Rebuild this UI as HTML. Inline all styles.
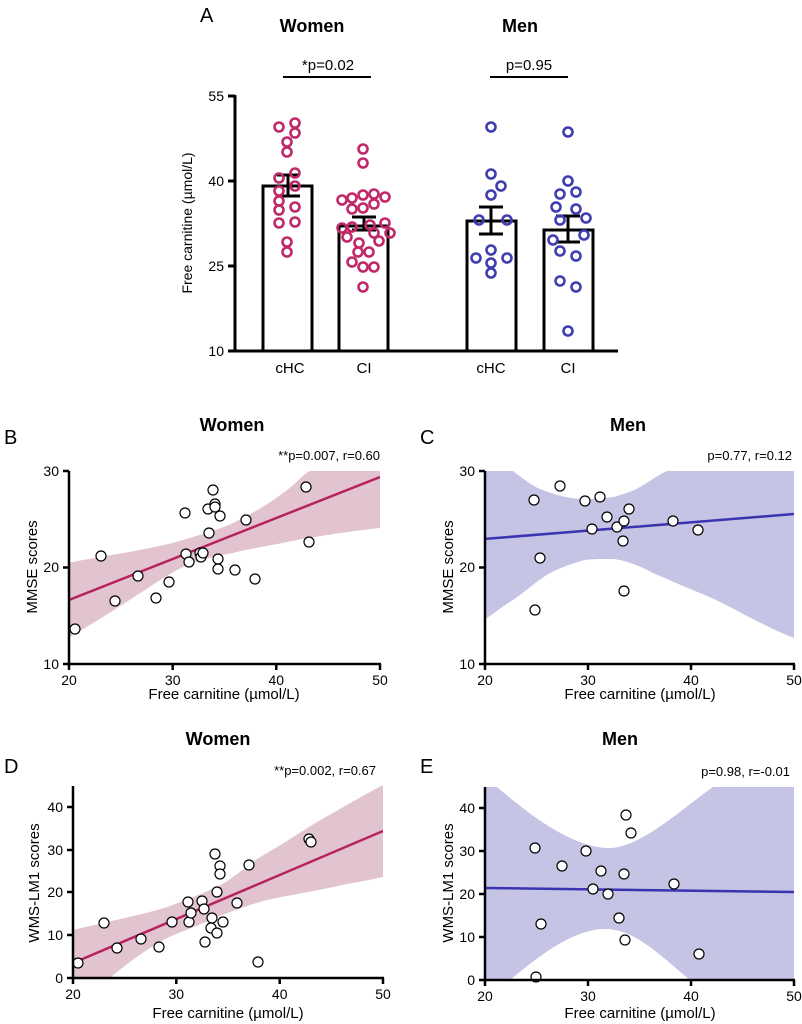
<!DOCTYPE html>
<html><head><meta charset="utf-8"><style>
html,body{margin:0;padding:0;background:#fff;}
svg{display:block;font-family:"Liberation Sans",Arial,sans-serif;}
</style></head><body>
<svg width="802" height="1024" viewBox="0 0 802 1024" xmlns="http://www.w3.org/2000/svg">
<defs>
<clipPath id="cB"><rect x="69" y="471" width="311" height="193"/></clipPath>
<clipPath id="cC"><rect x="485" y="471" width="309" height="193"/></clipPath>
<clipPath id="cD"><rect x="72" y="786" width="311" height="192"/></clipPath>
<clipPath id="cE"><rect x="485" y="787" width="309" height="193"/></clipPath>
</defs>
<!-- PANEL A -->
<text x="200" y="22" font-size="20">A</text>
<text x="312" y="32" font-size="18" font-weight="bold" text-anchor="middle">Women</text>
<text x="520" y="32" font-size="18" font-weight="bold" text-anchor="middle">Men</text>
<text x="328" y="70" font-size="15" text-anchor="middle">*p=0.02</text>
<line x1="283" y1="77" x2="371" y2="77" stroke="#000" stroke-width="2"/>
<text x="529" y="70" font-size="15" text-anchor="middle">p=0.95</text>
<line x1="490" y1="77" x2="568" y2="77" stroke="#000" stroke-width="2"/>
<text transform="translate(192,223) rotate(-90)" font-size="14" text-anchor="middle">Free carnitine (µmol/L)</text>
<g font-size="14" text-anchor="end">
<text x="224" y="101">55</text><text x="224" y="186">40</text><text x="224" y="271">25</text><text x="224" y="356">10</text>
</g>
<g stroke="#000" stroke-width="3" fill="#fff">
<rect x="263" y="186" width="49" height="165"/>
<rect x="339" y="226" width="49" height="125"/>
<rect x="467" y="221" width="49" height="130"/>
<rect x="544" y="230" width="49" height="121"/>
</g>
<g stroke="#000" stroke-width="3" fill="none">
<line x1="235" y1="95" x2="235" y2="352"/>
<line x1="234" y1="351" x2="618" y2="351"/>
<line x1="228" y1="96" x2="235" y2="96"/><line x1="228" y1="181" x2="235" y2="181"/><line x1="228" y1="266" x2="235" y2="266"/><line x1="228" y1="351" x2="235" y2="351"/>
<path d="M277 175H300M288 175V196M277 196H300"/>
<path d="M352 217H376M364 217V230M352 230H376"/>
<path d="M479 207H503M491 207V234M479 234H503"/>
<path d="M556 216H580M568 216V242M556 242H580"/>
</g>
<g font-size="15" text-anchor="middle">
<text x="290" y="373">cHC</text><text x="364" y="373">CI</text><text x="491" y="373">cHC</text><text x="568" y="373">CI</text>
</g>
<g fill="none" stroke="#c0286a" stroke-width="2.6">
<circle cx="279" cy="127" r="4.5"/><circle cx="295" cy="123" r="4.5"/><circle cx="295" cy="133" r="4.5"/><circle cx="287" cy="142" r="4.5"/><circle cx="287" cy="152" r="4.5"/><circle cx="295" cy="173" r="4.5"/><circle cx="279" cy="178" r="4.5"/><circle cx="295" cy="186" r="4.5"/><circle cx="279" cy="191" r="4.5"/><circle cx="279" cy="201" r="4.5"/><circle cx="295" cy="207" r="4.5"/><circle cx="279" cy="210" r="4.5"/><circle cx="279" cy="223" r="4.5"/><circle cx="295" cy="222" r="4.5"/><circle cx="287" cy="242" r="4.5"/><circle cx="287" cy="252" r="4.5"/>
<circle cx="363" cy="149" r="4.5"/><circle cx="363" cy="163" r="4.5"/><circle cx="342" cy="200" r="4.5"/><circle cx="352" cy="198" r="4.5"/><circle cx="363" cy="195" r="4.5"/><circle cx="374" cy="194" r="4.5"/><circle cx="385" cy="197" r="4.5"/><circle cx="352" cy="209" r="4.5"/><circle cx="363" cy="208" r="4.5"/><circle cx="374" cy="204" r="4.5"/><circle cx="342" cy="228" r="4.5"/><circle cx="352" cy="227" r="4.5"/><circle cx="370" cy="225" r="4.5"/><circle cx="385" cy="223" r="4.5"/><circle cx="347" cy="237" r="4.5"/><circle cx="374" cy="233" r="4.5"/><circle cx="390" cy="233" r="4.5"/><circle cx="359" cy="243" r="4.5"/><circle cx="379" cy="241" r="4.5"/><circle cx="358" cy="252" r="4.5"/><circle cx="369" cy="252" r="4.5"/><circle cx="352" cy="262" r="4.5"/><circle cx="363" cy="267" r="4.5"/><circle cx="374" cy="267" r="4.5"/><circle cx="363" cy="287" r="4.5"/>
</g>
<g fill="none" stroke="#3f3db0" stroke-width="2.6">
<circle cx="491" cy="127" r="4.5"/><circle cx="491" cy="174" r="4.5"/><circle cx="501" cy="186" r="4.5"/><circle cx="491" cy="195" r="4.5"/><circle cx="479" cy="220" r="4.5"/><circle cx="507" cy="220" r="4.5"/><circle cx="491" cy="250" r="4.5"/><circle cx="476" cy="258" r="4.5"/><circle cx="507" cy="258" r="4.5"/><circle cx="491" cy="263" r="4.5"/><circle cx="491" cy="273" r="4.5"/>
<circle cx="568" cy="132" r="4.5"/><circle cx="568" cy="181" r="4.5"/><circle cx="560" cy="194" r="4.5"/><circle cx="576" cy="192" r="4.5"/><circle cx="556" cy="207" r="4.5"/><circle cx="576" cy="209" r="4.5"/><circle cx="560" cy="220" r="4.5"/><circle cx="586" cy="218" r="4.5"/><circle cx="584" cy="235" r="4.5"/><circle cx="553" cy="240" r="4.5"/><circle cx="560" cy="251" r="4.5"/><circle cx="576" cy="256" r="4.5"/><circle cx="560" cy="281" r="4.5"/><circle cx="576" cy="287" r="4.5"/><circle cx="568" cy="331" r="4.5"/>
</g>

<!-- PANEL B -->
<text x="4" y="444" font-size="20">B</text>
<text x="232" y="431" font-size="18" font-weight="bold" text-anchor="middle">Women</text>
<text x="380" y="460" font-size="13" text-anchor="end">**p=0.007, r=0.60</text>
<g clip-path="url(#cB)">
<path d="M68 563 C100 556 150 550 183 540 C210 532 225 527 233 523 C255 512 270 503 283 493 C295 485 303 474 310 471 L380 471 L380 528 C350 531 300 539 283 543 C260 547 240 551 233 553 C210 557 195 562 183 567 C160 578 133 600 68 638 Z" fill="#e2c4d0"/>
<line x1="69" y1="600" x2="380" y2="477" stroke="#b8215f" stroke-width="2.5"/>
</g>
<g fill="#fff" stroke="#000" stroke-width="1.2">
<circle cx="75" cy="629" r="5"/><circle cx="101" cy="556" r="5"/><circle cx="115" cy="601" r="5"/><circle cx="138" cy="576" r="5"/><circle cx="156" cy="598" r="5"/><circle cx="169" cy="582" r="5"/><circle cx="185" cy="513" r="5"/><circle cx="186" cy="554" r="5"/><circle cx="189" cy="562" r="5"/><circle cx="200" cy="553" r="5"/><circle cx="201" cy="557" r="5"/><circle cx="203" cy="553" r="5"/><circle cx="208" cy="509" r="5"/><circle cx="209" cy="533" r="5"/><circle cx="213" cy="490" r="5"/><circle cx="215" cy="504" r="5"/><circle cx="215" cy="507" r="5"/><circle cx="218" cy="559" r="5"/><circle cx="218" cy="569" r="5"/><circle cx="220" cy="516" r="5"/><circle cx="235" cy="570" r="5"/><circle cx="246" cy="520" r="5"/><circle cx="255" cy="579" r="5"/><circle cx="306" cy="487" r="5"/><circle cx="309" cy="542" r="5"/>
</g>

<!-- PANEL C -->
<text x="420" y="444" font-size="20">C</text>
<text x="628" y="431" font-size="18" font-weight="bold" text-anchor="middle">Men</text>
<text x="792" y="460" font-size="13" text-anchor="end">p=0.77, r=0.12</text>
<g clip-path="url(#cC)">
<path d="M484 471 L513 471 C525 480 535 488 543 490 C560 497 575 499 585 499 C598 499 605 498 613 497 C625 494 633 491 640 487 C650 481 660 474 667 471 L794 471 L794 638 C760 625 730 605 700 593 C680 585 665 578 653 573 C640 566 625 560 613 559 C600 559 592 559 585 560 C570 564 560 568 550 573 C535 582 525 592 513 600 C500 608 492 615 484 620 Z" fill="#c6c4e5"/>
<line x1="484" y1="539" x2="794" y2="514" stroke="#3a34b0" stroke-width="2.5"/>
</g>
<g fill="#fff" stroke="#000" stroke-width="1.2">
<circle cx="534" cy="500" r="5"/><circle cx="560" cy="486" r="5"/><circle cx="540" cy="558" r="5"/><circle cx="535" cy="610" r="5"/><circle cx="585" cy="501" r="5"/><circle cx="600" cy="497" r="5"/><circle cx="592" cy="529" r="5"/><circle cx="607" cy="517" r="5"/><circle cx="617" cy="527" r="5"/><circle cx="624" cy="521" r="5"/><circle cx="629" cy="509" r="5"/><circle cx="623" cy="541" r="5"/><circle cx="624" cy="591" r="5"/><circle cx="673" cy="521" r="5"/><circle cx="698" cy="530" r="5"/>
</g>

<!-- PANEL D -->
<text x="4" y="773" font-size="20">D</text>
<text x="218" y="745" font-size="18" font-weight="bold" text-anchor="middle">Women</text>
<text x="376" y="775" font-size="13" text-anchor="end">**p=0.002, r=0.67</text>
<g clip-path="url(#cD)">
<path d="M73 930 C110 921 150 913 167 907 C190 899 205 892 217 887 C235 878 250 862 267 853 C290 840 310 825 333 813 C350 803 368 793 383 785 L383 877 C360 882 345 884 333 887 C310 892 285 896 267 900 C245 906 230 912 217 917 C200 925 185 930 167 938 C145 950 125 965 110 978 L73 978 Z" fill="#e2c4d0"/>
<line x1="73" y1="963" x2="383" y2="831" stroke="#b8215f" stroke-width="2.5"/>
</g>
<g fill="#fff" stroke="#000" stroke-width="1.2">
<circle cx="78" cy="963" r="5"/><circle cx="104" cy="923" r="5"/><circle cx="117" cy="948" r="5"/><circle cx="141" cy="939" r="5"/><circle cx="159" cy="947" r="5"/><circle cx="172" cy="922" r="5"/><circle cx="188" cy="902" r="5"/><circle cx="189" cy="922" r="5"/><circle cx="191" cy="913" r="5"/><circle cx="202" cy="901" r="5"/><circle cx="204" cy="909" r="5"/><circle cx="205" cy="942" r="5"/><circle cx="212" cy="918" r="5"/><circle cx="211" cy="928" r="5"/><circle cx="217" cy="933" r="5"/><circle cx="217" cy="892" r="5"/><circle cx="215" cy="854" r="5"/><circle cx="220" cy="866" r="5"/><circle cx="220" cy="874" r="5"/><circle cx="223" cy="922" r="5"/><circle cx="237" cy="903" r="5"/><circle cx="249" cy="865" r="5"/><circle cx="258" cy="962" r="5"/><circle cx="309" cy="839" r="5"/><circle cx="311" cy="842" r="5"/>
</g>

<!-- PANEL E -->
<text x="420" y="773" font-size="20">E</text>
<text x="620" y="745" font-size="18" font-weight="bold" text-anchor="middle">Men</text>
<text x="790" y="776" font-size="13" text-anchor="end">p=0.98, r=-0.01</text>
<g clip-path="url(#cE)">
<path d="M485 787 L497 787 C530 815 570 846 607 848 C640 849 680 810 713 787 L794 787 L794 980 L690 980 C660 955 635 930 607 929 C575 928 540 955 510 980 L485 980 Z" fill="#c6c4e5"/>
<line x1="485" y1="888" x2="794" y2="892" stroke="#3a34b0" stroke-width="2.5"/>
</g>
<g fill="#fff" stroke="#000" stroke-width="1.2">
<circle cx="535" cy="848" r="5"/><circle cx="536" cy="977" r="5"/><circle cx="541" cy="924" r="5"/><circle cx="562" cy="866" r="5"/><circle cx="586" cy="851" r="5"/><circle cx="593" cy="889" r="5"/><circle cx="601" cy="871" r="5"/><circle cx="608" cy="894" r="5"/><circle cx="619" cy="918" r="5"/><circle cx="624" cy="874" r="5"/><circle cx="625" cy="940" r="5"/><circle cx="626" cy="815" r="5"/><circle cx="631" cy="833" r="5"/><circle cx="674" cy="884" r="5"/><circle cx="699" cy="954" r="5"/>
</g>

<!-- axes for scatter panels -->
<g stroke="#000" stroke-width="2.5" fill="none">
<path d="M69 471V665M68 664H381M63 471H69M63 567.5H69M63 664H69M69 664V670M172.7 664V670M276.3 664V670M380 664V670"/>
<path d="M485 471V665M484 664H795M479 471H485M479 567.5H485M479 664H485M485 664V670M588 664V670M691 664V670M794 664V670"/>
<path d="M73 786V979M72 978H384M67 978H73M67 935H73M67 892H73M67 850H73M67 807H73M73 978V984M176.3 978V984M279.7 978V984M383 978V984"/>
<path d="M485 787V981M484 980H795M479 980H485M479 937H485M479 894H485M479 851H485M479 808H485M485 980V986M588 980V986M691 980V986M794 980V986"/>
</g>
<g font-size="14" text-anchor="end">
<text x="59" y="476">30</text><text x="59" y="572">20</text><text x="59" y="669">10</text>
<text x="475" y="476">30</text><text x="475" y="572">20</text><text x="475" y="669">10</text>
<text x="63" y="983">0</text><text x="63" y="940">10</text><text x="63" y="897">20</text><text x="63" y="855">30</text><text x="63" y="812">40</text>
<text x="475" y="985">0</text><text x="475" y="942">10</text><text x="475" y="899">20</text><text x="475" y="856">30</text><text x="475" y="813">40</text>
</g>
<g font-size="14" text-anchor="middle">
<text x="69" y="685">20</text><text x="172.7" y="685">30</text><text x="276.3" y="685">40</text><text x="380" y="685">50</text>
<text x="485" y="685">20</text><text x="588" y="685">30</text><text x="691" y="685">40</text><text x="794" y="685">50</text>
<text x="73" y="999">20</text><text x="176.3" y="999">30</text><text x="279.7" y="999">40</text><text x="383" y="999">50</text>
<text x="485" y="1001">20</text><text x="588" y="1001">30</text><text x="691" y="1001">40</text><text x="794" y="1001">50</text>
<text x="224" y="699" font-size="15">Free carnitine (µmol/L)</text>
<text x="640" y="699" font-size="15">Free carnitine (µmol/L)</text>
<text x="228" y="1018" font-size="15">Free carnitine (µmol/L)</text>
<text x="640" y="1018" font-size="15">Free carnitine (µmol/L)</text>
</g>
<g font-size="15" text-anchor="middle">
<text transform="translate(37,567) rotate(-90)">MMSE scores</text>
<text transform="translate(453,567) rotate(-90)">MMSE scores</text>
<text transform="translate(39,883) rotate(-90)">WMS-LM1 scores</text>
<text transform="translate(453,883) rotate(-90)">WMS-LM1 scores</text>
</g>
</svg>
</body></html>
